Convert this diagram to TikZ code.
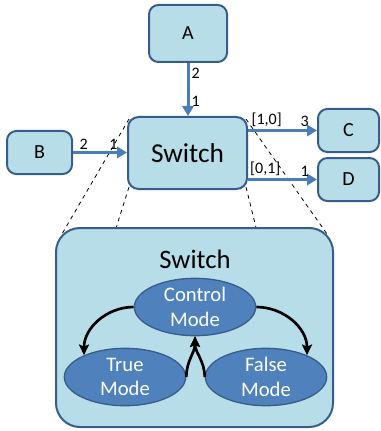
\documentclass[tikz,border=0pt]{standalone}
\usepackage{fontspec}
\setmainfont{Carlito}
\usetikzlibrary{arrows.meta,shapes.geometric,calc}

\definecolor{blkfill}{HTML}{B7DEE8}
\definecolor{blkline}{HTML}{385D8A}
\definecolor{modefill}{HTML}{4F81BD}
\definecolor{linkblue}{HTML}{4A7EBB}

\tikzset{
  blk/.style={draw=blkline,fill=blkfill,line width=1.5pt,rounded corners=7pt,inner sep=0pt,font=\fontsize{15}{18}\selectfont},
  mode/.style={ellipse,draw=blkline,fill=modefill,line width=1pt,text=white,align=center,inner sep=0pt,minimum width=91pt,minimum height=43pt,font=\fontsize{15.5}{18.5}\selectfont},
  link/.style={draw=linkblue,line width=2.25pt,-{Triangle[length=7.5pt,width=8.5pt]}},
  port/.style={inner sep=1.5pt,font=\fontsize{12}{14}\selectfont},
  trans/.style={line width=2pt,-{Stealth[length=8pt,width=7.5pt,inset=1.5pt]}}
}

\begin{document}
\begin{tikzpicture}[x=0.75pt,y=-0.75pt]
    \useasboundingbox (0,0) rectangle (380,431);
    \node[blk,minimum width=207.75pt,minimum height=149.25pt,rounded corners=18pt](big)at(194.5,327.5){};
    \node[font=\fontsize{20}{24}\selectfont](bigname)at(195,259){Switch};
    \node[mode](ctl)at(195,307){Control\\Mode};
    \node[mode](tru)at(125,377){True\\Mode};
    \node[mode](fls)at(266,377){False\\Mode};
    \draw[trans](ctl.west)to[out=180,in=90](tru.152);
    \draw[trans](ctl.east)to[out=0,in=90](fls.28);
    \draw[trans](tru.east)to[out=90,in=-90](ctl.south);
    \draw[trans](fls.west)to[out=90,in=-90](ctl.south);
    \node[blk,minimum width=58.5pt,minimum height=42.75pt](A)at(188,33.5){A};
    \node[blk,minimum width=89.25pt,minimum height=54pt,rounded corners=8pt,font=\fontsize{20.5}{24}\selectfont](sw)at(187.5,153){Switch};
    \node[blk,minimum width=48.75pt,minimum height=32.25pt](B)at(39.5,152.5){B};
    \node[blk,minimum width=45.75pt,minimum height=32.25pt](C)at(348.5,130.5){C};
    \node[blk,minimum width=45.75pt,minimum height=32.25pt](D)at(348.5,179.5){D};
    \draw[dashed,line width=0.6pt]($(sw.north west)+(2,3)$)--($(big.north west)+(7,7)$);
    \draw[dashed,line width=0.6pt]($(sw.south west)+(2,-3)$)--($(big.north west)!0.22!(big.north east)$);
    \draw[dashed,line width=0.6pt]($(sw.north east)+(-2,3)$)--($(big.north east)+(-7,7)$);
    \draw[dashed,line width=0.6pt]($(sw.south east)+(-2,-3)$)--($(big.north west)!0.72!(big.north east)$);
    \draw[link](A.south)--(A.south|-sw.north)node[port,pos=0.2,right]{2}node[port,pos=0.72,right]{1};
    \draw[link](B.east)--(B.east-|sw.west)node[port,pos=0.2,above]{2}node[port,pos=0.75,above]{1};
    \draw[link](sw.east|-C.west)--(C.west)node[port,pos=0.27,above]{[1,0]}node[port,pos=0.82,above]{3};
    \draw[link](sw.east|-D.west)--(D.west)node[port,pos=0.25,above]{[0,1]}node[port,pos=0.82,above]{1};
\end{tikzpicture}
\end{document}
